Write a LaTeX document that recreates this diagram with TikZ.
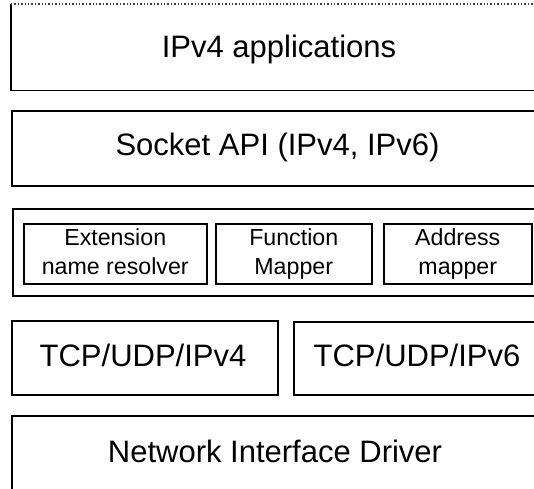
\documentclass[tikz,border=0pt]{standalone}
\usepackage{fontspec}
\setmainfont{Liberation Sans}
\begin{document}
\begin{tikzpicture}[x=0.5pt,y=-0.5pt,
  box/.style={draw, line width=0.75pt, inner sep=0pt, anchor=north west},
  bigtext/.style={font=\fontsize{15.5}{18}\selectfont, anchor=base, inner sep=0pt},
  smalltext/.style={font=\fontsize{11.6}{14.5}\selectfont, align=center, inner sep=0pt}]
\useasboundingbox (0,0) rectangle (534,488);
\clip (0,0) rectangle (534,488);

% application layer: open top edge drawn as a fine dotted rule
\node[box, draw=none, minimum width=267pt, minimum height=42.5pt] (app) at (11,4) {};
\draw[line width=0.75pt] (app.north west) -- (app.south west) -- (app.south east);
\draw[line width=0.7pt, densely dotted, black!75] (app.north west) -- (app.north east);
\node[bigtext] (appT) at (279,57) {IPv4 applications};

% socket layer
\node[box, minimum width=267pt, minimum height=37.5pt] (sock) at (11,110) {};
\node[bigtext] (sockT) at (277.5,155) {Socket API (IPv4, IPv6)};

% extension layer with its three modules
\node[box, minimum width=267pt, minimum height=43.5pt] (ext) at (12,208) {};
\node[box, minimum width=91.5pt, minimum height=30pt] (enr) at (23,223) {};
\node[box, minimum width=78pt, minimum height=30pt] (fm) at (215,223) {};
\node[box, minimum width=74pt, minimum height=30pt] (am) at (383,223) {};
\node[smalltext] (enrT) at ([yshift=-0.3pt]enr.center) {Extension\strut\\name resolver\strut};
\node[smalltext] (fmT) at ([yshift=-0.3pt]fm.center) {Function\strut\\Mapper\strut};
\node[smalltext] (amT) at ([yshift=-0.3pt]am.center) {Address\strut\\mapper\strut};

% transport stacks
\node[box, minimum width=133pt, minimum height=37pt] (tcp4) at (11,320) {};
\node[bigtext] (tcp4T) at (143,366) {TCP/UDP/IPv4};
\node[box, minimum width=124pt, minimum height=36.5pt] (tcp6) at (293,321) {};
\node[bigtext] (tcp6T) at (417,366) {TCP/UDP/IPv6};

% driver layer
\node[box, minimum width=267pt, minimum height=40pt] (nid) at (11,415) {};
\node[bigtext] (nidT) at (275,462) {Network Interface Driver};
\end{tikzpicture}
\end{document}
